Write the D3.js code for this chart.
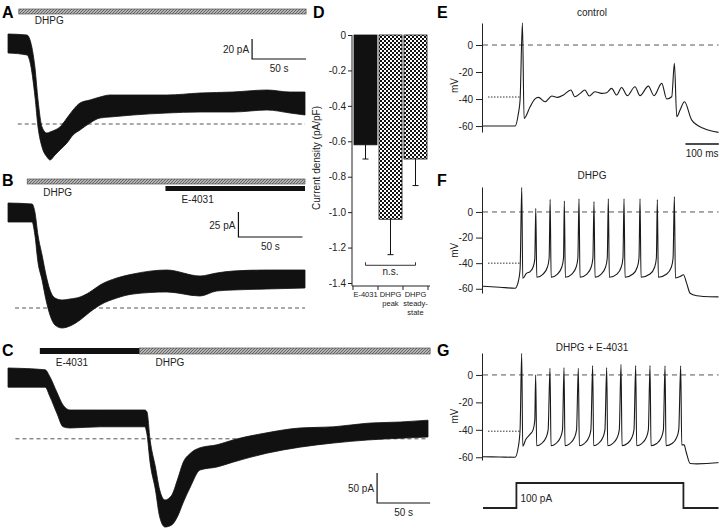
<!DOCTYPE html>
<html>
<head>
<meta charset="utf-8">
<script src="https://cdn.jsdelivr.net/npm/d3@7"></script>
<style>
  body { margin: 0; background: #fff; }
  svg { font-family: "Liberation Sans", Arial, Helvetica, sans-serif; }
  .lbl { font-size: 16px; font-weight: bold; }
  .txt { font-size: 10px; fill: #222; }
  .small { font-size: 7.5px; fill: #222; }
</style>
</head>
<body>
<script>
  // ---- A: DHPG alone (envelope of the noisy trace, s / pA)
  const aTime = [0, 17.6, 20.4, 25, 27.8, 31.5, 36.1, 38.9, 43.5, 48.1, 54.6, 60.2, 66.7, 75.9, 85.2, 94.4, 115.7, 147.2, 177.8, 208.3, 239.8, 261.1, 275];
  const aHigh = [9, 8, 3, -25, -57, -84, -90, -89, -87, -84, -75, -67, -60, -57, -54, -52, -52, -52, -50, -49, -47, -49, -49];
  const aLow = [-10, -12, -19, -54, -84, -104, -114, -117, -112, -107, -100, -92, -87, -80, -75, -74, -72, -70, -69, -69, -67, -70, -72];
  const aDrugs = [["DHPG", 10, 276]];
  const aPeakLine = -81;

  // ---- B: DHPG then E-4031
  const bTime = [0, 18.8, 21, 23.4, 26.6, 29.7, 32.8, 36.7, 42.2, 48.4, 56.3, 64, 71.9, 85, 97.7, 124, 150, 163, 176, 202, 232];
  const bHigh = [9, 8, 0, -23, -43, -63, -78, -86, -88, -87, -85, -80, -73, -66, -62, -58, -64, -61, -59, -58, -58];
  const bLow = [-10, -10, -23, -50, -68, -88, -103, -113, -116, -114, -108, -100, -93, -86, -82, -80, -84, -79, -78, -77, -76];
  const bDrugs = [["DHPG", 15, 232], ["E-4031", 123, 232]];
  const bPeakLine = -96;

  // ---- C: E-4031 then DHPG
  const cTime = [0, 35, 39.6, 46, 52, 58.5, 87, 129, 131, 134, 139, 143, 148, 154, 160, 165, 172, 181, 197, 212, 244, 275, 307, 339, 370, 396];
  const cHigh = [15, 12, 0, -25, -47, -55, -55, -55, -58, -105, -150, -188, -205, -198, -170, -143, -127, -118, -113, -105, -93, -85, -83, -77, -75, -72];
  const cLow = [-17, -17, -33, -60, -83, -85, -83, -83, -95, -143, -188, -233, -250, -247, -232, -210, -183, -155, -150, -142, -127, -117, -110, -105, -102, -100];
  const cDrugs = [["E-4031", 30, 124], ["DHPG", 124, 398]];
  const cPeakLine = -103;

  // ---- D: current density (pA/pF)
  const dCategories = ["E-4031", "DHPG peak", "DHPG steady-state"];
  const dLabels = [["E-4031"], ["DHPG", "peak"], ["DHPG", "steady-", "state"]];
  const dMeans = [-0.62, -1.04, -0.70];
  const dErrors = [0.08, 0.20, 0.15];
  const dTicks = [0, -0.2, -0.4, -0.6, -0.8, -1.0, -1.2, -1.4];

  // ---- E/F/G: current clamp (ms / mV)
  const mvTicks = [0, -20, -40, -60];
  const eTrace = [[0,-60],[96,-60],[106,-50.6],[111,-40.7],[118,16.5],[123,-54.3],[141,-45.7],[155,-40],[166,-38.8],[186,-42],[206,-37.8],[223,-38.8],[241,-37],[263,-33.3],[275,-38.3],[290,-36],[305,-33.3],[318,-37.8],[335,-34.6],[355,-35.8],[370,-35.3],[385,-32.1],[400,-37],[415,-31.4],[432,-37.5],[455,-30.9],[470,-37.5],[495,-30.4],[512,-37.5],[535,-28.4],[550,-40],[565,-38.3],[573,-13.6],[580,-53.1],[590,-48.1],[603,-42],[625,-55.6],[660,-61.7],[705,-64.7]];
  const fTrace = [[0,-58],[50,-58.8],[96,-59.6],[104,-56],[111,-45],[116,19.3],[119,-51.8],[130,-48],[141,-46.6],[150,-43],[155,-37],[158,2.9],[161,-51],[180,-48.5],[193,-43],[198,-36],[201,9.9],[204,-51],[223,-48.5],[236,-43],[241,-36],[243.5,8.6],[246.5,-51],[266,-48.5],[279,-43],[284,-36],[287.4,10.2],[290.4,-51],[311,-48.5],[324,-43],[329,-36],[332.3,8.1],[335.3,-51],[354,-48.5],[367,-43],[372,-36],[375.2,10.2],[378.2,-51],[401,-48.5],[414,-43],[419,-36],[422.2,10.2],[425.2,-51],[449,-48.5],[462,-43],[467,-36],[470.1,10.2],[473.1,-51],[500,-48.5],[514,-43],[519,-36],[521.9,9.6],[524.9,-51],[550,-48.5],[564,-43],[569,-36],[572.9,12],[576,-51.6],[590,-50.5],[600,-49],[610,-56],[620,-63.5],[640,-65.5],[660,-66],[705,-66.3]];
  const gTrace = [[0,-59.6],[50,-59.8],[96,-60],[106,-52],[111,-40],[115.8,15.8],[119,-52],[128,-47],[140,-43.5],[150,-40],[155,-33],[157.7,0],[160.7,-51.6],[175,-50],[188,-46],[195,-40],[200.6,4.9],[203.6,-51.6],[218,-50],[231,-46],[238,-40],[242.5,5.4],[245.5,-51.6],[260,-50],[273,-46],[280,-40],[285.4,4.9],[288.4,-51.6],[303,-50],[316,-46],[323,-40],[328.3,6.8],[331.3,-51.6],[345,-50],[358,-46],[365,-40],[370.3,5.4],[373.3,-51.6],[388,-50],[401,-46],[408,-40],[413.2,7.8],[416.2,-51.6],[432,-50],[445,-46],[452,-40],[457.1,6.8],[460.1,-51.6],[475,-50],[488,-46],[495,-40],[500,6.8],[503,-51.6],[520,-50],[533,-46],[540,-40],[544.9,6.6],[547.9,-51.6],[566,-50],[579,-46],[586,-40],[591.8,6.6],[595,-51],[602,-51],[608,-56],[620,-64.5],[640,-64.8],[700,-64],[705,-63.8]];
  const thresholds = [-38.5, -40, -41];
  const stepTime = [0, 100, 100, 600, 600, 705];
  const stepCurrent = [0, 0, 100, 100, 0, 0];

  const svg = d3.select("body").append("svg").attr("width", 720).attr("height", 531);
  const defs = svg.append("defs");

  const checker = defs.append("pattern").attr("id", "checker")
    .attr("patternUnits", "userSpaceOnUse").attr("width", 4).attr("height", 4);
  checker.append("rect").attr("width", 4).attr("height", 4).attr("fill", "#fff");
  checker.append("rect").attr("width", 2).attr("height", 2).attr("fill", "#111");
  checker.append("rect").attr("x", 2).attr("y", 2).attr("width", 2).attr("height", 2).attr("fill", "#111");

  const hatch = defs.append("pattern").attr("id", "hatch")
    .attr("patternUnits", "userSpaceOnUse").attr("width", 3).attr("height", 3);
  hatch.append("rect").attr("width", 3).attr("height", 3).attr("fill", "#b4b4b4");
  hatch.append("path").attr("d", "M-1,1 L1,-1 M0,3 L3,0 M2,4 L4,2")
    .attr("stroke", "#666").attr("stroke-width", 1);

  function panelLabel(t, x, y) {
    svg.append("text").attr("class", "lbl").attr("x", x).attr("y", y).text(t);
  }

  // voltage-clamp panel: drug bars, trace band, dashed peak line, scale bar
  function vcPanel(o) {
    const data = o.time.map((t, i) => ({t, hi: o.high[i], lo: o.low[i]}));
    const x = o.x, y = o.y;

    o.drugs.forEach((d, i) => {
      const row = o.rows[i];
      svg.append("rect")
        .attr("x", x(d[1])).attr("y", row.y)
        .attr("width", x(d[2]) - x(d[1])).attr("height", row.h)
        .attr("fill", d[0] === "DHPG" ? "url(#hatch)" : "#111")
        .attr("stroke", d[0] === "DHPG" ? "#555" : "none").attr("stroke-width", 0.7);
      svg.append("text").attr("class", "txt")
        .attr("x", x(d[1]) + 16).attr("y", row.ty).text(d[0]);
    });

    svg.append("line")
      .attr("x1", x(o.lineFrom)).attr("x2", x(o.time[o.time.length - 1]))
      .attr("y1", y(o.peak)).attr("y2", y(o.peak))
      .attr("stroke", "#555").attr("stroke-dasharray", "4,3");

    svg.append("path").datum(data)
      .attr("d", d3.area().x(d => x(d.t)).y0(d => y(d.hi)).y1(d => y(d.lo)).curve(d3.curveMonotoneX))
      .attr("fill", "#111").attr("stroke", "#111").attr("stroke-width", 0.8);

    const sb = o.scale;
    const g = svg.append("g").attr("fill", "none").attr("stroke", "#111").attr("stroke-width", 1.2);
    g.append("path").attr("d", d3.line()([
      [x(sb.t), y(sb.v + sb.dv)], [x(sb.t), y(sb.v)], [x(sb.t + sb.dt), y(sb.v)]
    ]));
    svg.append("text").attr("class", "txt").attr("text-anchor", "end")
      .attr("x", x(sb.t) - 3).attr("y", (y(sb.v) + y(sb.v + sb.dv)) / 2 + 4)
      .text(sb.dv + " pA");
    svg.append("text").attr("class", "txt").attr("text-anchor", "middle")
      .attr("x", x(sb.t + sb.dt / 2)).attr("y", y(sb.v) + 13).text(sb.dt + " s");
  }

  vcPanel({
    time: aTime, high: aHigh, low: aLow, drugs: aDrugs, peak: aPeakLine, lineFrom: 9,
    x: d3.scaleLinear().domain([0, 275]).range([8, 305]),
    y: d3.scaleLinear().domain([0, -120]).range([43, 163]),
    rows: [{y: 9, h: 5, ty: 24}],
    scale: {t: 226, dt: 50, v: -16, dv: 20}
  });
  vcPanel({
    time: bTime, high: bHigh, low: bLow, drugs: bDrugs, peak: bPeakLine, lineFrom: 5.5,
    x: d3.scaleLinear().domain([0, 232]).range([8, 305]),
    y: d3.scaleLinear().domain([0, -120]).range([212, 332]),
    rows: [{y: 179, h: 5, ty: 196}, {y: 186, h: 5, ty: 203}],
    scale: {t: 180, dt: 50, v: -25, dv: 25}
  });
  vcPanel({
    time: cTime, high: cHigh, low: cLow, drugs: cDrugs, peak: cPeakLine, lineFrom: 7,
    x: d3.scaleLinear().domain([0, 396]).range([8, 428]),
    y: d3.scaleLinear().domain([0, -250]).range([377, 527]),
    rows: [{y: 348, h: 6, ty: 366}, {y: 348, h: 6, ty: 366}],
    scale: {t: 348, dt: 50, v: -210, dv: 50}
  });

  panelLabel("A", 2, 18);
  panelLabel("B", 2, 186);
  panelLabel("C", 2, 356);
  panelLabel("D", 313, 18);
  panelLabel("E", 437, 18);
  panelLabel("F", 437, 186);
  panelLabel("G", 437, 356);

  // ---- D bar chart
  const yD = d3.scaleLinear().domain([0, -1.4]).range([35, 283]);
  const xD = d3.scaleBand().domain(dCategories).range([353, 428]).paddingInner(0.08).paddingOuter(0.04);
  const gD = svg.append("g");
  gD.selectAll(".bar").data(dCategories).join("rect")
    .attr("x", d => xD(d)).attr("width", xD.bandwidth())
    .attr("y", yD(0)).attr("height", (d, i) => yD(dMeans[i]) - yD(0))
    .attr("fill", (d, i) => i === 0 ? "#111" : "url(#checker)")
    .attr("stroke", "#111").attr("stroke-width", 0.8);
  gD.selectAll(".err").data(dCategories).join("path")
    .attr("d", (d, i) => {
      const cx = xD(d) + xD.bandwidth() / 2;
      const y0 = yD(dMeans[i]), y1 = yD(dMeans[i] - dErrors[i]);
      return `M${cx},${y0}V${y1}M${cx - 3},${y1}H${cx + 3}`;
    })
    .attr("stroke", "#111").attr("fill", "none");

  const yAxisD = d3.axisLeft(yD).tickValues(dTicks).tickSize(4).tickPadding(2)
    .tickFormat(d => d === 0 ? "0" : d.toFixed(1));
  const ga = gD.append("g").attr("transform", "translate(352,0)").call(yAxisD);
  ga.select(".domain").remove();
  ga.selectAll("text").attr("font-size", 10).attr("font-family", "Liberation Sans, Arial").attr("fill", "#222");
  ga.selectAll("line").attr("stroke", "#222");
  gD.append("path").attr("d", "M352,35V286H430").attr("fill", "none").attr("stroke", "#222");
  const bounds = dCategories.map(d => xD(d) - xD.step() * xD.paddingInner() / 2).concat([xD.range()[1]]);
  gD.selectAll(".bt").data(bounds).join("line")
    .attr("x1", d => d).attr("x2", d => d).attr("y1", 286).attr("y2", 290).attr("stroke", "#222");
  dLabels.forEach((lines, i) => {
    const cx = xD(dCategories[i]) + xD.bandwidth() / 2;
    lines.forEach((s, k) => {
      gD.append("text").attr("class", "small").attr("text-anchor", "middle")
        .attr("x", cx).attr("y", 297 + k * 9).text(s);
    });
  });
  // n.s. bracket between E-4031 and DHPG steady-state
  const c0 = xD(dCategories[0]) + xD.bandwidth() / 2, c2 = xD(dCategories[2]) + xD.bandwidth() / 2;
  const yb = yD(-1.30);
  gD.append("path").attr("d", `M${c0},${yb - 3}V${yb}H${c2}V${yb - 3}`).attr("fill", "none").attr("stroke", "#333");
  gD.append("text").attr("class", "txt").attr("text-anchor", "middle")
    .attr("x", (c0 + c2) / 2).attr("y", yb + 10).text("n.s.");
  gD.append("text").attr("class", "txt").attr("text-anchor", "middle")
    .attr("transform", "translate(320,158) rotate(-90)").text("Current density (pA/pF)");

  // ---- E/F/G current clamp traces
  const tx = d3.scaleLinear().domain([0, 705]).range([483, 718.5]);
  function ccPanel(trace, y, title, titleY, thr) {
    const g = svg.append("g");
    const ax = g.append("g").attr("transform", "translate(482,0)")
      .call(d3.axisLeft(y).tickValues(mvTicks).tickSize(6).tickSizeOuter(0).tickPadding(3).tickFormat(d => String(d)));
    ax.selectAll("text").attr("font-size", 10).attr("font-family", "Liberation Sans, Arial").attr("fill", "#222");
    ax.selectAll("line,path").attr("stroke", "#222");
    g.append("text").attr("class", "txt").attr("text-anchor", "middle")
      .attr("transform", `translate(458,${(y(0) + y(-60)) / 2}) rotate(-90)`).text("mV");
    g.append("text").attr("class", "txt").attr("text-anchor", "middle")
      .attr("x", 592).attr("y", titleY).text(title);
    g.append("line").attr("x1", tx(0)).attr("x2", tx(705)).attr("y1", y(0)).attr("y2", y(0))
      .attr("stroke", "#555").attr("stroke-dasharray", "5,4");
    g.append("line").attr("x1", tx(15)).attr("x2", tx(110)).attr("y1", y(thr)).attr("y2", y(thr))
      .attr("stroke", "#333").attr("stroke-dasharray", "1.5,1.5");
    g.append("path").datum(trace)
      .attr("d", d3.line().x(d => tx(d[0])).y(d => y(d[1])).curve(d3.curveMonotoneX))
      .attr("fill", "none").attr("stroke", "#1a1a1a").attr("stroke-width", 1.1);
  }
  const yE = d3.scaleLinear().domain([16.3, -64.4]).range([23, 132]);
  const yF = d3.scaleLinear().domain([19.5, -63.3]).range([187, 293]);
  const yG = d3.scaleLinear().domain([16, -62]).range([353, 460]);
  ccPanel(eTrace, yE, "control", 16, thresholds[0]);
  ccPanel(fTrace, yF, "DHPG", 179, thresholds[1]);
  ccPanel(gTrace, yG, "DHPG + E-4031", 351, thresholds[2]);

  // 100 ms scale bar in E
  svg.append("line").attr("x1", tx(606)).attr("x2", tx(706)).attr("y1", 144).attr("y2", 144)
    .attr("stroke", "#111").attr("stroke-width", 1.5);
  svg.append("text").attr("class", "txt").attr("text-anchor", "middle")
    .attr("x", tx(656)).attr("y", 157).text("100 ms");

  // current step under G
  const yStep = d3.scaleLinear().domain([0, 100]).range([508, 483]);
  svg.append("path").datum(stepTime.map((t, i) => [t, stepCurrent[i]]))
    .attr("d", d3.line().x(d => tx(d[0])).y(d => yStep(d[1])))
    .attr("fill", "none").attr("stroke", "#222").attr("stroke-width", 1.8);
  svg.append("text").attr("class", "txt").attr("x", tx(112)).attr("y", 502).text("100 pA");
</script>
</body>
</html>
